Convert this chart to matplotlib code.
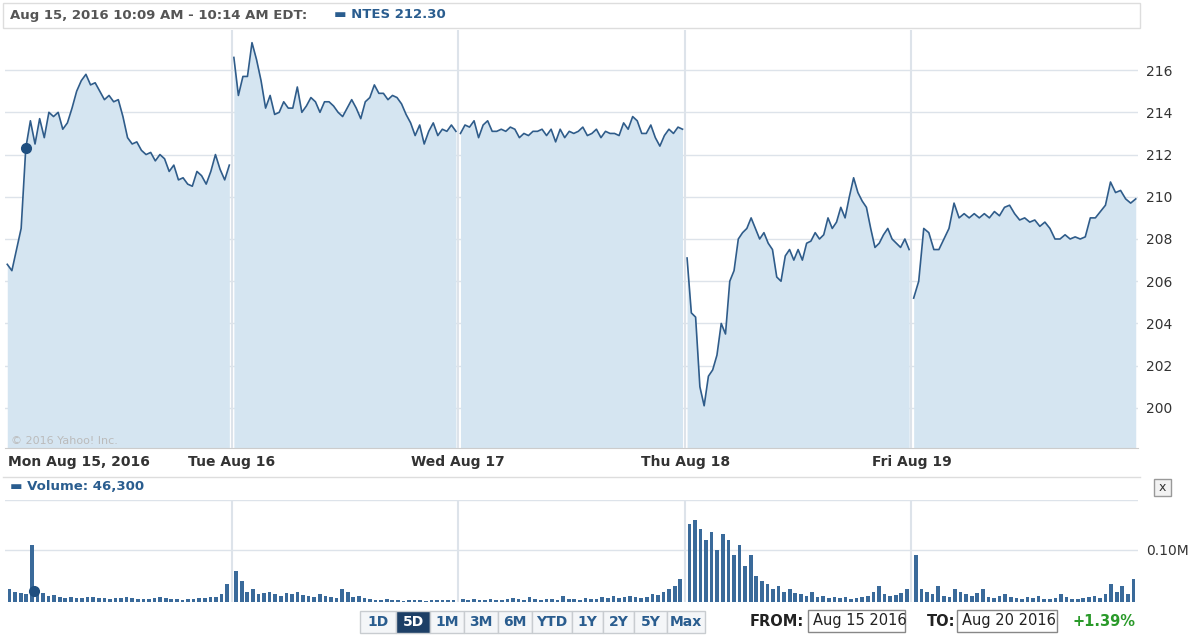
import matplotlib
matplotlib.use("Agg")
import matplotlib.pyplot as plt
from matplotlib.patches import Rectangle

days = ["Mon Aug 15, 2016", "Tue Aug 16", "Wed Aug 17", "Thu Aug 18", "Fri Aug 19"]
price_mon = [206.8, 206.5, 207.5, 208.5, 212.3, 213.6, 212.5, 213.7, 212.8, 214.0, 213.8, 214.0, 213.2, 213.5, 214.2, 215.0, 215.5, 215.8, 215.3, 215.4, 215.0, 214.6, 214.8, 214.5, 214.6, 213.8, 212.8, 212.5, 212.6, 212.2, 212.0, 212.1, 211.7, 212.0, 211.8, 211.2, 211.5, 210.8, 210.9, 210.6, 210.5, 211.2, 211.0, 210.6, 211.2, 212.0, 211.3, 210.8, 211.5]
price_tue = [216.6, 214.8, 215.7, 215.7, 217.3, 216.5, 215.5, 214.2, 214.8, 213.9, 214.0, 214.5, 214.2, 214.2, 215.2, 214.0, 214.3, 214.7, 214.5, 214.0, 214.5, 214.5, 214.3, 214.0, 213.8, 214.2, 214.6, 214.2, 213.7, 214.5, 214.7, 215.3, 214.9, 214.9, 214.6, 214.8, 214.7, 214.4, 213.9, 213.5, 212.9, 213.4, 212.5, 213.1, 213.5, 212.9, 213.2, 213.1, 213.4, 213.1]
price_wed = [213.0, 213.4, 213.3, 213.6, 212.8, 213.4, 213.6, 213.1, 213.1, 213.2, 213.1, 213.3, 213.2, 212.8, 213.0, 212.9, 213.1, 213.1, 213.2, 212.9, 213.2, 212.6, 213.2, 212.8, 213.1, 213.0, 213.1, 213.3, 212.9, 213.0, 213.2, 212.8, 213.1, 213.0, 213.0, 212.9, 213.5, 213.2, 213.8, 213.6, 213.0, 213.0, 213.4, 212.8, 212.4, 212.9, 213.2, 213.0, 213.3, 213.2]
price_thu = [207.1, 204.5, 204.3, 201.0, 200.1, 201.5, 201.8, 202.5, 204.0, 203.5, 206.0, 206.5, 208.0, 208.3, 208.5, 209.0, 208.5, 208.0, 208.3, 207.8, 207.5, 206.2, 206.0, 207.2, 207.5, 207.0, 207.5, 207.0, 207.8, 207.9, 208.3, 208.0, 208.2, 209.0, 208.5, 208.8, 209.5, 209.0, 210.0, 210.9, 210.2, 209.8, 209.5, 208.5, 207.6, 207.8, 208.2, 208.5, 208.0, 207.8, 207.6, 208.0, 207.5]
price_fri = [205.2, 206.0, 208.5, 208.3, 207.5, 207.5, 208.0, 208.5, 209.7, 209.0, 209.2, 209.0, 209.2, 209.0, 209.2, 209.0, 209.3, 209.1, 209.5, 209.6, 209.2, 208.9, 209.0, 208.8, 208.9, 208.6, 208.8, 208.5, 208.0, 208.0, 208.2, 208.0, 208.1, 208.0, 208.1, 209.0, 209.0, 209.3, 209.6, 210.7, 210.2, 210.3, 209.9, 209.7, 209.9]
vol_mon = [25, 20, 18, 15, 110, 20, 18, 12, 14, 10, 8, 9, 7, 8, 10, 9, 8, 7, 6, 8, 7, 9, 8, 6, 5, 6, 7, 9, 8, 6, 5, 4, 5, 6, 8, 7, 9, 10, 15, 35]
vol_tue = [60, 40, 20, 25, 15, 18, 20, 15, 12, 18, 15, 20, 14, 12, 10, 15, 12, 10, 8, 25, 20, 10, 12, 8, 5, 4, 3, 5, 4, 3, 2, 3, 4, 3, 2, 3, 4, 3, 4, 3]
vol_wed = [5, 4, 6, 3, 4, 5, 3, 4, 6, 8, 5, 4, 10, 5, 4, 6, 5, 4, 12, 6, 5, 4, 8, 6, 5, 10, 7, 12, 8, 10, 12, 9, 8, 10, 15, 14, 20, 25, 30, 45]
vol_thu = [150, 157, 140, 120, 135, 100, 130, 120, 90, 110, 70, 90, 50, 40, 35, 25, 30, 20, 25, 18, 15, 12, 20, 10, 12, 8, 10, 7, 9, 6, 8, 10, 12, 20, 30, 15, 12, 14, 18, 25]
vol_fri = [91, 25, 20, 15, 30, 12, 10, 25, 20, 15, 12, 18, 25, 10, 8, 12, 15, 10, 8, 6, 10, 8, 12, 6, 5, 8, 15, 10, 6, 5, 8, 10, 12, 8, 15, 35, 20, 30, 15, 45]
prices = [price_mon, price_tue, price_wed, price_thu, price_fri]
vols = [vol_mon, vol_tue, vol_wed, vol_thu, vol_fri]
price_ticks = [200, 202, 204, 206, 208, 210, 212, 214, 216]
current_vol = 46.3

W, H = 1200, 636
fig = plt.figure(figsize=(12, 6.36), dpi=100)
def fx(x): return x / W
def fy(y): return 1 - y / H

line_c = "#2f5c8a"; fill_c = "#d5e5f1"; grid_c = "#dde3ea"
ax = fig.add_axes([fx(5), fy(448), fx(1138 - 5), (448 - 30) / H])
for d, p in enumerate(prices):
    n = len(p)
    xs = [d + 0.01 + 0.98 * i / (n - 1) for i in range(n)]
    ax.fill_between(xs, p, 198.1, color=fill_c, lw=0)
    ax.plot(xs, p, color=line_c, lw=1.2)
ax.plot([0.01 + 0.98 * 4 / 48], [price_mon[4]], "o", color="#1f4f80", ms=7)
ax.set_xlim(0, 5); ax.set_ylim(198.1, 217.9)
ax.set_yticks(price_ticks)
ax.yaxis.tick_right()
ax.tick_params(axis="y", length=0, labelsize=10, colors="#333333", pad=6)
ax.set_xticks([])
for t in price_ticks:
    ax.axhline(t, color=grid_c, lw=1, zorder=0)
for d in range(1, 5):
    ax.axvline(d, color=grid_c, lw=1.5, zorder=3)
for s in ["top", "left", "right"]:
    ax.spines[s].set_visible(False)
ax.spines["bottom"].set_color("#cccccc")
ax.text(0.005, 0.01, "© 2016 Yahoo! Inc.", transform=ax.transAxes, fontsize=8, color="#bbbbbb")

label_x = [8, 232, 458, 686, 912]
for i, (lab, x) in enumerate(zip(days, label_x)):
    fig.text(fx(x), fy(462), lab, ha="left" if i == 0 else "center", va="center",
             fontsize=10, fontweight="bold", color="#333333")

vax = fig.add_axes([fx(5), fy(602), fx(1133), 102 / H])
for d, v in enumerate(vols):
    n = len(v)
    xs = [d + 0.02 + 0.96 * i / (n - 1) for i in range(n)]
    vax.bar(xs, v, width=0.016, color="#3a6a9a")
vax.plot([0.02 + 0.96 * 4 / 39 + 0.01], [current_vol * 0.45], "o", color="#1f4f80", ms=7)
vax.set_xlim(0, 5); vax.set_ylim(0, 196)
vax.set_yticks([100]); vax.set_yticklabels(["0.10M"])
vax.yaxis.tick_right()
vax.tick_params(axis="y", length=0, labelsize=10, colors="#333333", pad=6)
vax.set_xticks([])
vax.axhline(100, color=grid_c, lw=1, zorder=0)
for d in range(1, 5):
    vax.axvline(d, color=grid_c, lw=1.5, zorder=0)
for s in vax.spines.values():
    s.set_visible(False)
vax.axhline(196, color=grid_c, lw=1)

# header
fig.patches.append(Rectangle((fx(3), fy(28)), fx(1137), 25 / H, transform=fig.transFigure,
                             fill=False, ec="#dddddd", lw=1))
fig.text(fx(10), fy(15), "Aug 15, 2016 10:09 AM - 10:14 AM EDT:", fontsize=9.5, fontweight="bold",
         color="#555555", va="center")
fig.text(fx(334), fy(15), "▬ NTES 212.30", fontsize=9.5, fontweight="bold", color="#2a5d8f", va="center")
fig.text(fx(10), fy(487), "▬ Volume: 46,300", fontsize=9.5, fontweight="bold", color="#2a5d8f", va="center")
fig.lines.append(plt.Line2D([fx(3), fx(1140)], [fy(477), fy(477)], transform=fig.transFigure, color="#dddddd", lw=1))
fig.patches.append(Rectangle((fx(1154), fy(496)), 17 / W, 17 / H, transform=fig.transFigure,
                             fc="#f2f2f2", ec="#999999", lw=1))
fig.text(fx(1162.5), fy(487.5), "x", fontsize=9, ha="center", va="center", color="#333333")

buttons = ["1D", "5D", "1M", "3M", "6M", "YTD", "1Y", "2Y", "5Y", "Max"]
bw = [36, 34, 34, 34, 34, 40, 31, 31, 33, 38]
x = 360
for b, w in zip(buttons, bw):
    sel = b == "5D"
    fig.patches.append(Rectangle((fx(x), fy(633)), w / W, 22 / H, transform=fig.transFigure,
                                 fc="#1d3f66" if sel else "#f4f6f8", ec="#c8ccd0", lw=1))
    fig.text(fx(x + w / 2), fy(622), b, ha="center", va="center", fontsize=10, fontweight="bold",
             color="white" if sel else "#2a5d8f")
    x += w
fig.text(fx(750), fy(621), "FROM:", fontsize=10.5, fontweight="bold", va="center", color="#222222")
fig.patches.append(Rectangle((fx(808), fy(632)), 97 / W, 22 / H, transform=fig.transFigure, fill=False, ec="#888888"))
fig.text(fx(813), fy(621), "Aug 15 2016", fontsize=10.5, va="center", color="#222222")
fig.text(fx(927), fy(621), "TO:", fontsize=10.5, fontweight="bold", va="center", color="#222222")
fig.patches.append(Rectangle((fx(957), fy(632)), 100 / W, 22 / H, transform=fig.transFigure, fill=False, ec="#888888"))
fig.text(fx(962), fy(621), "Aug 20 2016", fontsize=10.5, va="center", color="#222222")
fig.text(fx(1073), fy(621), "+1.39%", fontsize=10.5, fontweight="bold", va="center", color="#2a9a2a")

fig.savefig("out.png", dpi=100)
